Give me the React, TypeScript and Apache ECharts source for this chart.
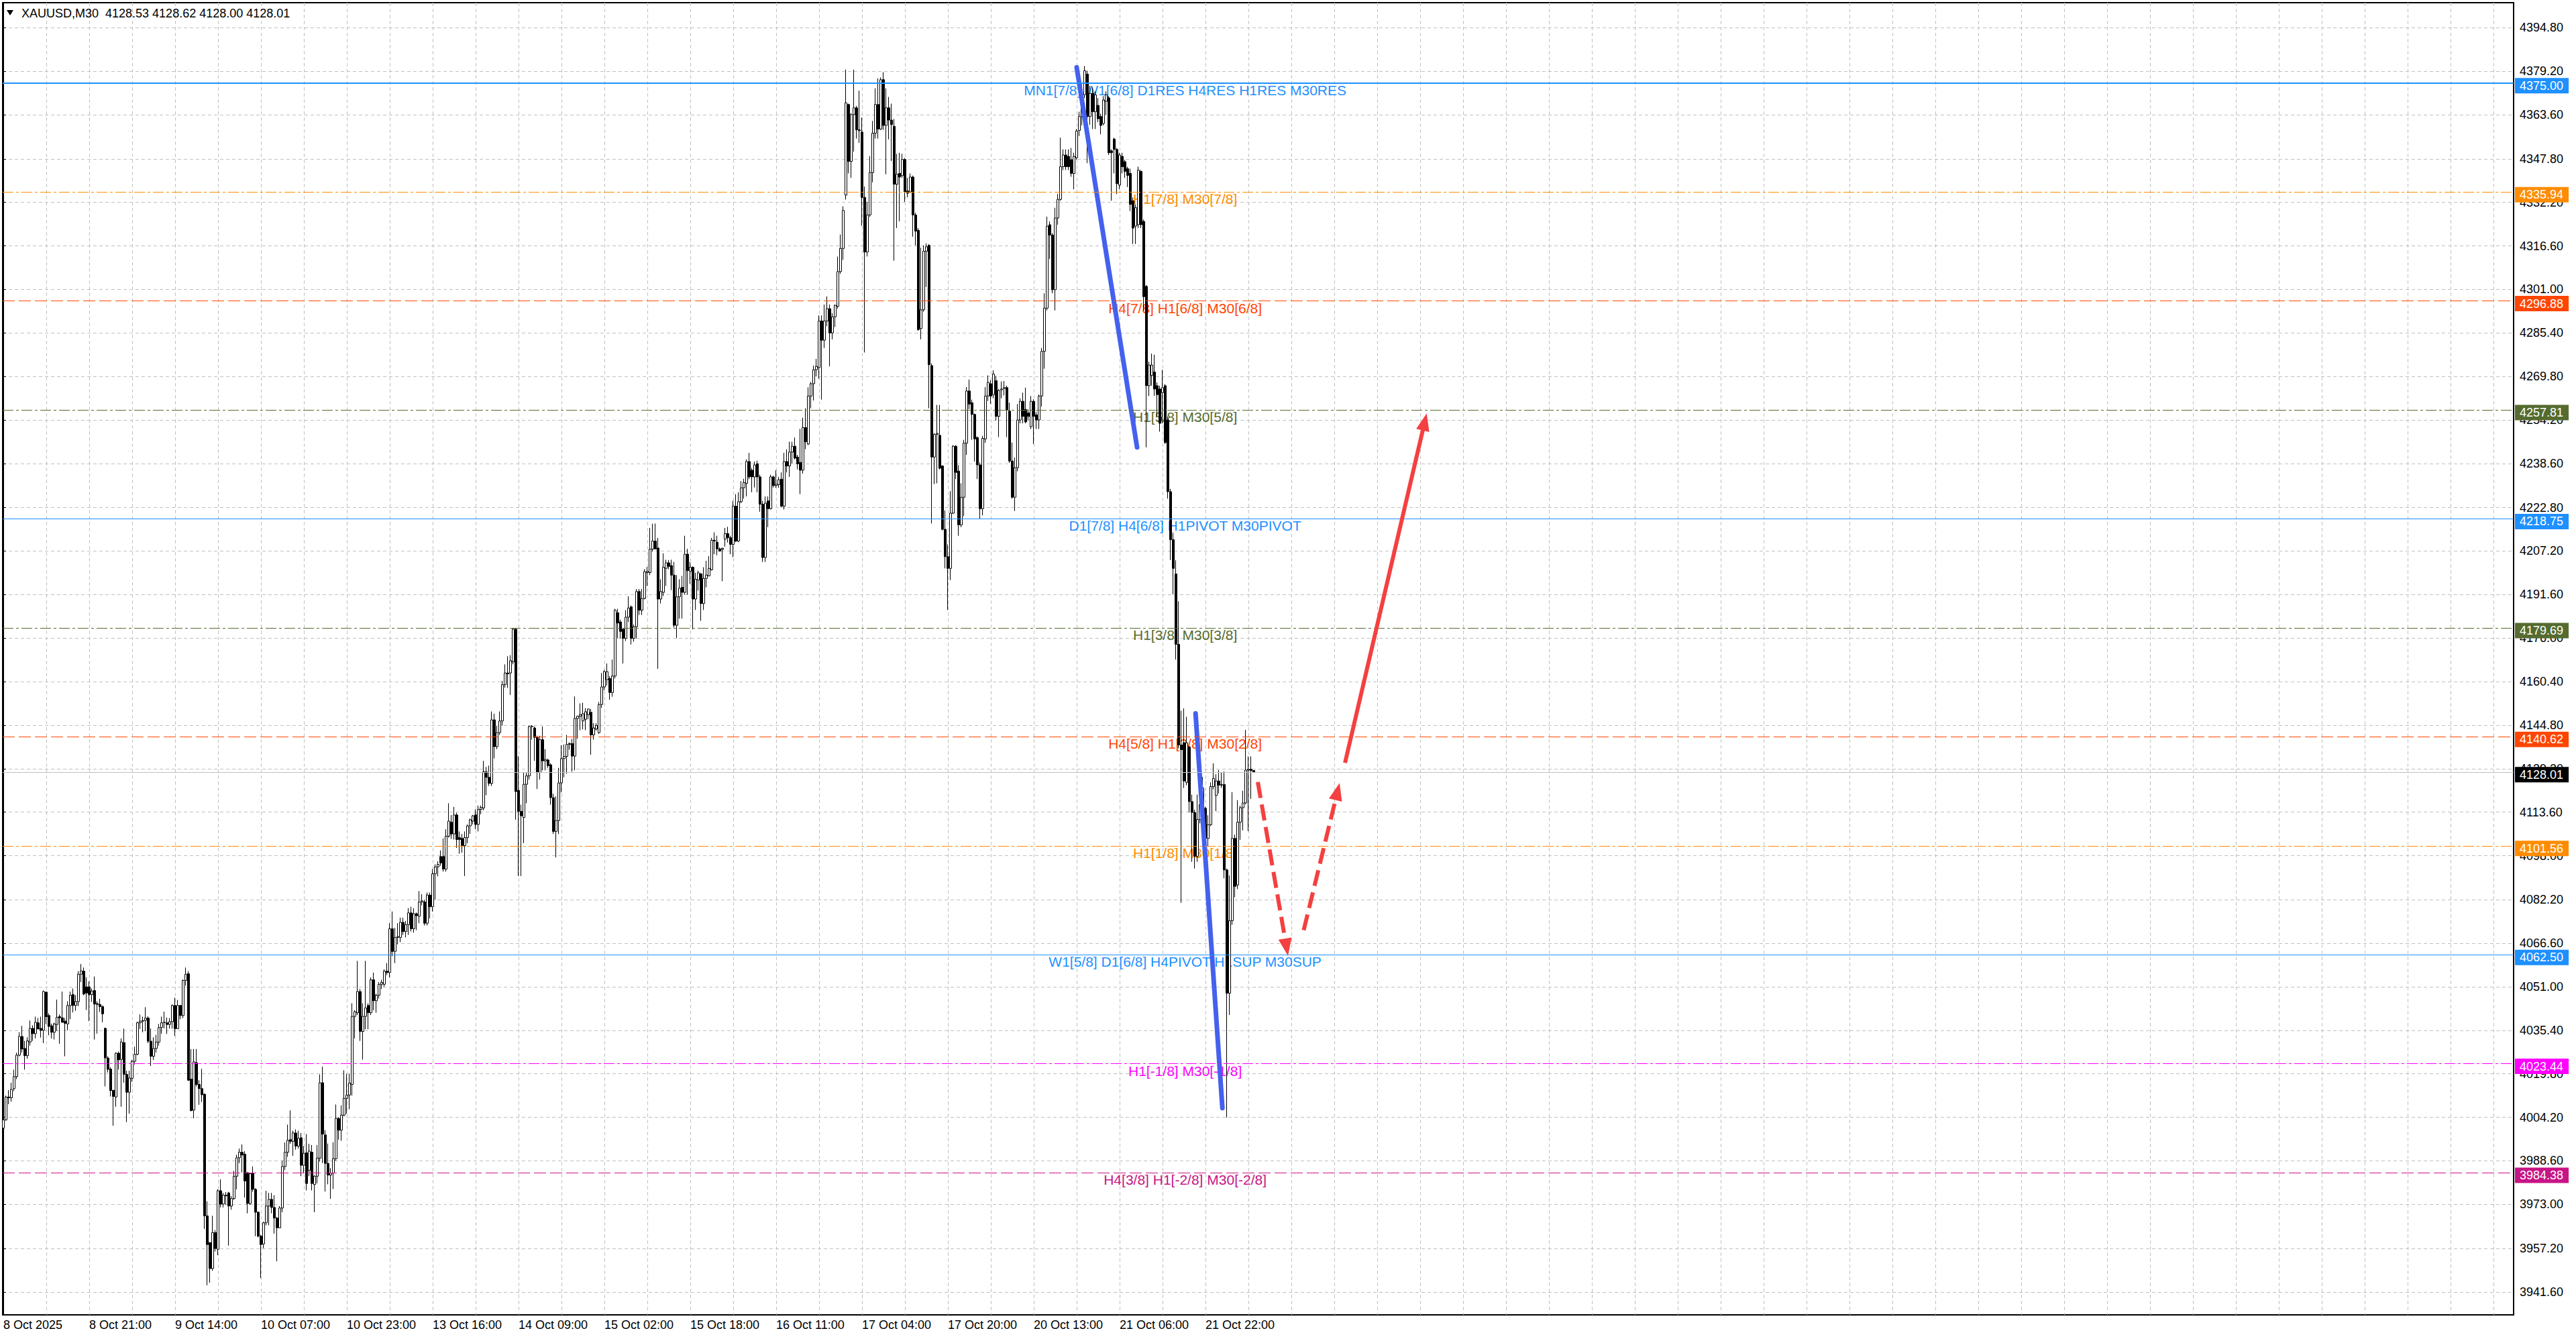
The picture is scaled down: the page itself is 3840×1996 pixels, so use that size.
import { useEffect, useRef } from "react"
import * as echarts from "echarts"

// XAUUSD M30 bars, oldest first: [open, high, low, close]
const candles: number[][] = [
  [4000.3, 4005.9, 3995.6, 4003.3], [4003.3, 4012.0, 4003.0, 4011.5], [4011.5, 4014.0, 4008.9, 4011.2], [4011.2, 4016.6, 4009.8, 4014.2],
  [4014.5, 4021.3, 4013.6, 4018.8], [4018.8, 4027.4, 4017.9, 4026.5], [4026.5, 4034.7, 4026.1, 4033.2], [4033.2, 4037.0, 4027.4, 4028.7],
  [4028.9, 4031.6, 4021.3, 4026.3], [4026.3, 4032.9, 4025.2, 4031.6], [4031.2, 4038.9, 4029.9, 4036.1], [4036.1, 4037.2, 4031.6, 4034.2],
  [4034.2, 4040.3, 4032.5, 4038.3], [4038.1, 4039.8, 4035.8, 4035.9], [4036.1, 4040.3, 4032.8, 4035.4], [4035.4, 4049.7, 4030.8, 4049.3],
  [4049.1, 4049.3, 4037.7, 4040.3], [4040.7, 4041.5, 4033.6, 4036.8], [4037.0, 4037.8, 4032.5, 4034.7], [4034.7, 4038.1, 4032.1, 4037.7],
  [4037.5, 4046.4, 4035.1, 4040.1], [4040.3, 4041.1, 4030.6, 4039.9], [4039.9, 4049.3, 4038.1, 4038.3], [4038.7, 4039.8, 4026.1, 4037.9],
  [4037.7, 4045.8, 4035.4, 4044.3], [4044.3, 4049.3, 4039.4, 4048.0], [4048.2, 4050.4, 4041.8, 4044.3], [4044.3, 4048.0, 4042.4, 4045.7],
  [4045.7, 4056.6, 4044.1, 4055.5], [4055.5, 4059.2, 4052.7, 4056.7], [4056.6, 4057.9, 4048.0, 4048.4], [4051.0, 4054.4, 4042.7, 4048.8],
  [4051.0, 4053.0, 4038.7, 4048.2], [4048.2, 4050.4, 4045.6, 4049.5], [4049.7, 4054.7, 4032.1, 4044.8], [4045.0, 4045.8, 4034.2, 4044.7],
  [4044.7, 4046.7, 4042.0, 4043.9], [4043.9, 4044.3, 4038.3, 4041.3], [4036.1, 4036.4, 4015.3, 4025.5], [4025.5, 4026.1, 4020.3, 4021.4],
  [4021.5, 4022.2, 4011.7, 4013.8], [4013.9, 4014.0, 4001.2, 4011.7], [4011.5, 4027.5, 4008.0, 4027.2], [4027.2, 4027.8, 4021.3, 4024.8],
  [4025.0, 4032.5, 4008.0, 4031.2], [4031.0, 4036.0, 4016.6, 4019.6], [4019.6, 4020.9, 4002.5, 4013.2], [4013.2, 4020.9, 4005.5, 4018.3],
  [4018.2, 4024.8, 4016.9, 4024.3], [4024.3, 4029.5, 4023.1, 4026.8], [4026.8, 4038.5, 4026.5, 4038.1], [4038.1, 4041.1, 4035.9, 4038.7],
  [4038.7, 4040.3, 4034.7, 4038.9], [4039.0, 4043.7, 4035.1, 4039.8], [4039.8, 4040.4, 4030.8, 4031.5], [4031.5, 4036.1, 4022.6, 4026.1],
  [4026.1, 4032.9, 4024.8, 4028.9], [4028.9, 4033.8, 4027.4, 4031.2], [4031.2, 4037.7, 4029.9, 4036.4], [4036.4, 4040.3, 4034.2, 4038.1],
  [4038.2, 4042.1, 4036.1, 4038.3], [4038.1, 4040.0, 4034.1, 4037.5], [4037.5, 4039.8, 4036.0, 4038.5], [4038.5, 4044.7, 4036.0, 4044.3],
  [4044.3, 4047.1, 4033.4, 4036.0], [4036.0, 4046.3, 4036.0, 4044.3], [4044.3, 4044.5, 4039.4, 4040.7], [4040.7, 4053.6, 4039.8, 4053.3],
  [4053.3, 4057.9, 4051.4, 4055.5], [4055.7, 4056.6, 4017.3, 4017.5], [4017.9, 4028.7, 4006.4, 4006.6], [4006.8, 4028.7, 4003.9, 4024.1],
  [4023.8, 4028.7, 4015.3, 4016.0], [4016.0, 4017.5, 4008.7, 4014.5], [4014.5, 4021.6, 4009.7, 4012.3], [4012.5, 4012.8, 3964.2, 3968.9],
  [3968.9, 3974.1, 3944.0, 3958.6], [3959.3, 3959.5, 3944.9, 3950.0], [3950.0, 3968.9, 3949.2, 3962.9], [3962.9, 3963.8, 3956.1, 3957.2],
  [3956.9, 3978.4, 3954.8, 3977.9], [3977.9, 3982.0, 3971.9, 3973.1], [3973.1, 3977.1, 3971.9, 3976.3], [3976.3, 3977.4, 3972.8, 3976.1],
  [3977.1, 3977.5, 3958.2, 3972.4], [3972.4, 3976.0, 3971.1, 3975.1], [3975.1, 3985.0, 3974.6, 3983.1], [3983.1, 3990.8, 3978.4, 3989.7],
  [3989.7, 3993.0, 3987.8, 3991.7], [3991.7, 3994.5, 3984.4, 3990.7], [3991.0, 3992.1, 3975.4, 3981.4], [3984.4, 3984.6, 3969.8, 3973.3],
  [3973.3, 3984.4, 3972.8, 3984.0], [3984.2, 3986.6, 3977.5, 3978.4], [3978.4, 3978.8, 3961.6, 3970.2], [3970.2, 3970.5, 3961.2, 3961.6],
  [3961.6, 3962.1, 3946.6, 3958.6], [3958.8, 3966.8, 3957.3, 3966.4], [3966.4, 3977.9, 3965.5, 3972.4], [3972.4, 3977.1, 3965.5, 3974.8],
  [3974.8, 3977.1, 3969.8, 3971.9], [3971.9, 3976.3, 3962.5, 3968.1], [3968.1, 3968.5, 3952.6, 3964.6], [3964.6, 3972.4, 3964.5, 3971.7],
  [3971.7, 3988.7, 3970.2, 3986.6], [3986.6, 3995.2, 3985.3, 3991.7], [3991.7, 4001.6, 3990.0, 3996.0], [3996.2, 4006.7, 3994.7, 3995.6],
  [3995.6, 3999.4, 3990.4, 3998.6], [3998.6, 3999.9, 3992.6, 3993.9], [3993.9, 3999.4, 3993.0, 3996.7], [3996.9, 3998.6, 3983.1, 3987.0],
  [3987.0, 3993.9, 3984.4, 3991.3], [3991.5, 3998.2, 3978.0, 3980.5], [3985.2, 3994.7, 3983.1, 3992.1], [3991.7, 3994.3, 3978.0, 3980.5],
  [3980.1, 3983.5, 3970.2, 3983.1], [3983.1, 3994.3, 3980.5, 3989.6], [3989.6, 4019.6, 3988.3, 4016.6], [4016.6, 4022.4, 3987.8, 3998.2],
  [3997.9, 3999.6, 3977.6, 3987.7], [3987.7, 3994.8, 3980.2, 3983.5], [3983.5, 3986.0, 3975.0, 3984.2], [3984.2, 3995.3, 3978.5, 3989.4],
  [3989.4, 4008.8, 3988.6, 4003.8], [4003.8, 4004.3, 3996.2, 3999.6], [3999.6, 4008.5, 3995.8, 4005.0], [4005.0, 4021.1, 4004.6, 4011.0],
  [4011.0, 4019.8, 4005.5, 4012.2], [4012.2, 4019.8, 4007.1, 4016.5], [4016.0, 4045.1, 4012.0, 4040.4], [4040.4, 4042.6, 4032.5, 4042.1],
  [4041.7, 4060.3, 4040.9, 4049.3], [4049.3, 4050.2, 4031.6, 4035.0], [4035.0, 4045.1, 4024.9, 4040.4], [4040.4, 4060.3, 4035.8, 4043.4],
  [4044.3, 4045.1, 4035.8, 4041.7], [4041.7, 4054.4, 4040.9, 4053.5], [4053.5, 4056.1, 4042.6, 4046.0], [4046.0, 4048.5, 4041.7, 4048.0],
  [4048.0, 4052.7, 4046.8, 4051.9], [4051.9, 4053.5, 4050.2, 4052.6], [4051.9, 4057.3, 4051.0, 4056.6], [4056.6, 4059.5, 4055.2, 4056.1],
  [4056.1, 4073.8, 4054.4, 4071.8], [4071.8, 4078.0, 4062.0, 4063.7], [4063.7, 4072.1, 4059.5, 4068.7], [4068.7, 4073.8, 4066.2, 4069.0],
  [4068.7, 4075.8, 4067.0, 4074.1], [4074.1, 4075.8, 4069.6, 4070.8], [4070.8, 4074.6, 4068.7, 4073.3], [4073.3, 4079.2, 4069.6, 4077.5],
  [4077.5, 4079.7, 4070.8, 4071.8], [4071.8, 4079.2, 4070.4, 4077.2], [4077.2, 4077.6, 4071.3, 4076.5], [4076.3, 4085.3, 4073.8, 4081.4],
  [4081.4, 4084.2, 4080.2, 4081.8], [4081.4, 4082.2, 4073.0, 4073.8], [4073.8, 4084.8, 4073.0, 4083.9], [4083.9, 4084.8, 4075.5, 4079.7],
  [4079.7, 4093.2, 4078.0, 4091.5], [4091.5, 4094.9, 4082.2, 4094.0], [4094.0, 4096.0, 4090.6, 4094.9], [4097.7, 4099.9, 4094.4, 4095.4],
  [4097.7, 4104.2, 4092.3, 4093.2], [4093.2, 4107.5, 4092.3, 4105.0], [4105.0, 4116.8, 4104.5, 4110.4], [4110.0, 4112.6, 4104.0, 4105.8],
  [4105.8, 4115.5, 4103.8, 4112.6], [4112.6, 4113.4, 4100.8, 4103.8], [4104.5, 4106.7, 4098.7, 4103.8], [4104.2, 4105.8, 4099.1, 4101.6],
  [4101.6, 4106.7, 4090.7, 4104.5], [4104.5, 4109.2, 4102.5, 4108.7], [4108.7, 4111.3, 4105.8, 4110.9], [4110.4, 4112.6, 4109.2, 4112.3],
  [4112.6, 4114.6, 4107.5, 4109.2], [4109.2, 4116.0, 4106.7, 4114.6], [4114.6, 4116.0, 4112.8, 4115.3], [4115.1, 4132.0, 4114.3, 4128.1],
  [4128.1, 4129.8, 4119.7, 4126.1], [4126.1, 4130.3, 4123.0, 4123.9], [4123.9, 4149.7, 4123.0, 4146.7], [4146.7, 4148.9, 4132.9, 4137.1],
  [4137.1, 4144.6, 4136.2, 4142.1], [4142.1, 4149.7, 4141.3, 4146.3], [4146.3, 4160.7, 4144.6, 4159.3], [4159.3, 4166.6, 4158.2, 4163.5],
  [4163.5, 4169.5, 4158.2, 4163.2], [4163.5, 4169.9, 4155.6, 4167.9], [4167.5, 4179.7, 4166.6, 4179.2], [4179.2, 4179.7, 4110.9, 4121.0],
  [4121.4, 4133.7, 4090.7, 4113.9], [4113.9, 4116.3, 4090.7, 4112.3], [4111.7, 4127.8, 4102.5, 4123.6], [4123.6, 4127.8, 4116.8, 4126.6],
  [4126.6, 4144.6, 4125.3, 4144.3], [4144.3, 4144.8, 4139.6, 4144.4], [4143.8, 4144.3, 4132.0, 4140.4], [4140.4, 4141.0, 4121.9, 4127.8],
  [4127.8, 4141.0, 4125.3, 4139.6], [4139.6, 4144.3, 4128.6, 4132.0], [4132.0, 4136.2, 4128.6, 4132.5], [4132.3, 4132.8, 4129.5, 4130.3],
  [4130.6, 4131.1, 4116.3, 4118.8], [4118.8, 4120.2, 4105.8, 4106.7], [4106.7, 4119.3, 4097.4, 4110.6], [4110.6, 4129.5, 4105.8, 4124.1],
  [4124.1, 4137.6, 4120.7, 4132.8], [4132.8, 4137.9, 4126.1, 4133.6], [4133.6, 4141.3, 4127.4, 4137.9], [4137.9, 4138.6, 4136.0, 4138.2],
  [4138.2, 4139.9, 4128.1, 4133.7], [4133.7, 4155.1, 4128.6, 4147.2], [4147.2, 4148.2, 4139.9, 4148.0], [4148.0, 4152.6, 4143.0, 4148.6],
  [4146.3, 4152.8, 4143.3, 4148.9], [4146.9, 4150.9, 4143.0, 4149.6], [4148.5, 4150.6, 4146.9, 4150.6], [4149.4, 4150.6, 4134.2, 4141.3],
  [4141.3, 4145.5, 4139.6, 4143.8], [4143.4, 4145.5, 4142.9, 4144.7], [4142.1, 4153.1, 4141.7, 4152.2], [4152.2, 4163.5, 4151.0, 4158.5],
  [4158.5, 4164.6, 4157.3, 4164.0], [4161.1, 4166.9, 4159.0, 4164.0], [4161.5, 4162.4, 4153.9, 4156.5], [4156.5, 4168.3, 4155.0, 4162.4],
  [4162.4, 4186.5, 4161.5, 4186.0], [4185.1, 4186.5, 4175.9, 4181.4], [4181.8, 4182.6, 4175.9, 4178.4], [4179.2, 4179.7, 4166.9, 4175.9],
  [4175.9, 4186.0, 4175.0, 4183.5], [4183.5, 4191.0, 4181.8, 4186.8], [4187.2, 4187.7, 4173.7, 4175.9], [4175.9, 4180.9, 4174.7, 4180.1],
  [4180.1, 4193.6, 4175.9, 4192.7], [4192.7, 4193.6, 4184.3, 4186.0], [4186.0, 4193.6, 4184.3, 4190.2], [4190.2, 4200.7, 4189.9, 4199.8],
  [4199.5, 4201.5, 4194.7, 4199.9], [4199.5, 4215.5, 4198.6, 4207.9], [4207.9, 4217.0, 4207.0, 4210.8], [4210.8, 4217.1, 4207.9, 4208.0],
  [4208.3, 4211.9, 4165.0, 4190.0], [4190.0, 4197.1, 4188.4, 4192.7], [4192.4, 4206.4, 4191.1, 4201.4], [4201.0, 4204.1, 4194.7, 4203.0],
  [4203.0, 4204.0, 4200.7, 4201.7], [4202.0, 4204.1, 4193.2, 4198.6], [4198.6, 4203.3, 4179.8, 4180.6], [4180.6, 4198.6, 4176.0, 4190.8],
  [4190.8, 4197.1, 4183.0, 4193.9], [4194.2, 4198.3, 4183.0, 4192.4], [4192.4, 4212.7, 4191.6, 4206.1], [4206.1, 4208.0, 4191.6, 4200.2],
  [4200.0, 4203.3, 4195.5, 4201.4], [4201.4, 4201.7, 4179.1, 4190.0], [4190.0, 4199.4, 4186.1, 4197.1], [4196.8, 4200.2, 4193.0, 4199.4],
  [4199.0, 4199.4, 4182.2, 4188.4], [4188.4, 4201.4, 4186.1, 4197.4], [4197.4, 4203.7, 4194.2, 4198.6], [4198.3, 4205.4, 4198.3, 4201.0],
  [4200.5, 4211.9, 4200.2, 4211.1], [4211.1, 4213.9, 4206.1, 4210.8], [4210.4, 4212.7, 4205.7, 4208.0], [4208.0, 4208.5, 4207.0, 4207.2],
  [4207.8, 4208.4, 4196.4, 4208.2], [4211.5, 4215.5, 4208.8, 4213.5], [4213.5, 4215.9, 4210.3, 4212.0], [4212.0, 4212.7, 4206.1, 4209.6],
  [4209.6, 4225.2, 4205.0, 4223.3], [4223.3, 4227.6, 4210.4, 4210.8], [4210.8, 4228.3, 4210.4, 4224.9], [4224.9, 4232.3, 4224.4, 4229.9],
  [4229.9, 4233.1, 4226.0, 4231.8], [4231.5, 4240.1, 4226.8, 4239.3], [4239.3, 4242.4, 4233.0, 4233.8], [4236.2, 4237.0, 4228.3, 4233.8],
  [4233.8, 4239.3, 4230.0, 4238.1], [4238.5, 4239.6, 4228.3, 4233.8], [4233.8, 4234.6, 4221.3, 4224.0], [4224.0, 4225.2, 4203.3, 4204.9],
  [4204.9, 4226.8, 4203.3, 4224.4], [4225.2, 4226.8, 4215.8, 4222.4], [4222.4, 4234.6, 4222.1, 4233.8], [4233.8, 4234.2, 4230.0, 4230.7],
  [4230.7, 4236.2, 4229.9, 4231.2], [4231.0, 4233.8, 4229.9, 4232.8], [4233.0, 4235.4, 4222.9, 4223.3], [4223.3, 4242.4, 4222.1, 4239.3],
  [4239.3, 4243.7, 4235.4, 4237.7], [4237.7, 4246.4, 4233.8, 4242.7], [4242.7, 4246.4, 4238.5, 4244.8], [4244.8, 4247.9, 4240.1, 4240.5],
  [4240.9, 4241.7, 4236.5, 4238.5], [4239.0, 4251.0, 4227.6, 4236.2], [4236.2, 4255.0, 4235.0, 4251.5], [4251.5, 4258.4, 4243.7, 4246.4],
  [4245.6, 4265.9, 4245.2, 4262.8], [4262.8, 4267.8, 4258.4, 4267.2], [4267.2, 4273.7, 4261.2, 4272.2], [4272.2, 4276.1, 4269.8, 4273.4],
  [4273.0, 4291.7, 4269.0, 4289.7], [4289.7, 4291.7, 4261.5, 4282.8], [4282.8, 4295.6, 4280.0, 4289.7], [4289.7, 4298.5, 4287.8, 4294.1],
  [4294.1, 4295.6, 4273.4, 4285.4], [4285.4, 4292.5, 4283.1, 4291.2], [4291.2, 4295.6, 4287.5, 4295.3], [4294.9, 4312.8, 4294.1, 4307.4],
  [4307.4, 4320.7, 4306.6, 4315.7], [4315.7, 4330.8, 4311.6, 4329.3], [4334.8, 4379.8, 4333.2, 4367.9], [4367.3, 4367.6, 4342.6, 4346.9],
  [4346.9, 4364.2, 4341.0, 4363.7], [4363.7, 4379.8, 4350.4, 4366.1], [4366.1, 4366.8, 4355.1, 4358.2], [4358.2, 4372.3, 4353.5, 4357.9],
  [4357.4, 4362.6, 4323.8, 4334.0], [4334.0, 4337.9, 4278.4, 4314.4], [4314.4, 4332.4, 4312.8, 4327.7], [4327.7, 4348.8, 4327.0, 4342.9],
  [4342.9, 4361.4, 4339.4, 4357.0], [4357.0, 4373.1, 4355.1, 4367.3], [4367.3, 4376.7, 4355.1, 4358.5], [4358.5, 4377.0, 4358.2, 4376.2],
  [4376.2, 4378.9, 4358.2, 4359.8], [4359.8, 4373.1, 4342.3, 4366.1], [4366.1, 4370.0, 4354.8, 4361.7], [4361.7, 4367.6, 4347.0, 4360.1],
  [4359.5, 4362.1, 4311.3, 4338.7], [4338.7, 4349.6, 4323.0, 4342.3], [4342.6, 4350.0, 4325.4, 4341.3], [4341.8, 4349.6, 4341.0, 4347.6],
  [4347.6, 4348.1, 4332.4, 4336.0], [4336.3, 4341.0, 4334.0, 4335.5], [4336.0, 4342.6, 4335.5, 4341.3], [4341.3, 4341.8, 4319.9, 4327.7],
  [4327.7, 4328.5, 4316.8, 4321.9], [4322.2, 4323.0, 4286.2, 4286.6], [4287.0, 4316.0, 4283.1, 4293.7], [4293.7, 4316.8, 4293.0, 4314.7],
  [4314.7, 4317.5, 4301.9, 4316.3], [4316.8, 4317.2, 4258.4, 4274.0], [4273.7, 4274.5, 4217.1, 4240.9], [4240.9, 4249.5, 4231.2, 4249.0],
  [4249.0, 4259.6, 4231.5, 4249.4], [4248.7, 4259.6, 4236.5, 4236.9], [4237.7, 4238.0, 4214.6, 4215.0], [4215.0, 4221.8, 4201.0, 4205.2],
  [4205.2, 4209.6, 4186.1, 4201.0], [4201.0, 4228.7, 4196.8, 4220.8], [4220.8, 4245.2, 4220.5, 4244.8], [4244.8, 4245.2, 4233.0, 4235.4],
  [4235.9, 4238.0, 4212.7, 4216.6], [4216.6, 4231.5, 4215.8, 4226.5], [4226.5, 4247.1, 4219.7, 4245.9], [4245.9, 4266.0, 4241.7, 4264.6],
  [4264.6, 4268.7, 4258.1, 4259.9], [4260.4, 4261.5, 4247.1, 4256.2], [4256.2, 4256.5, 4239.3, 4247.4], [4247.9, 4248.3, 4233.0, 4238.1],
  [4238.1, 4239.0, 4218.7, 4222.4], [4222.4, 4248.5, 4220.0, 4247.6], [4247.4, 4266.0, 4246.0, 4262.8], [4262.8, 4270.2, 4261.0, 4267.7],
  [4267.2, 4268.5, 4260.0, 4262.8], [4263.3, 4272.0, 4262.0, 4270.7], [4268.3, 4270.0, 4254.0, 4255.5], [4255.5, 4265.3, 4248.1, 4264.8],
  [4265.0, 4268.0, 4262.0, 4265.3], [4265.5, 4268.2, 4263.0, 4265.8], [4265.8, 4266.5, 4248.1, 4257.9], [4257.4, 4260.4, 4238.8, 4239.5],
  [4239.5, 4246.1, 4226.0, 4226.5], [4226.5, 4240.7, 4221.6, 4237.1], [4237.1, 4259.9, 4235.8, 4254.2], [4254.2, 4262.0, 4253.0, 4260.9],
  [4260.9, 4264.0, 4253.0, 4255.5], [4258.0, 4265.8, 4253.0, 4253.5], [4256.7, 4258.0, 4254.0, 4255.5], [4251.8, 4262.8, 4251.0, 4260.9],
  [4260.9, 4261.6, 4245.6, 4255.5], [4256.0, 4257.0, 4251.0, 4254.2], [4254.2, 4263.3, 4251.0, 4262.8], [4262.8, 4280.0, 4259.0, 4278.8],
  [4278.8, 4299.6, 4272.6, 4294.3], [4294.3, 4327.1, 4293.5, 4323.7], [4324.2, 4325.4, 4311.9, 4320.5], [4320.5, 4321.2, 4299.6, 4300.9],
  [4300.9, 4330.3, 4293.5, 4326.6], [4326.6, 4335.2, 4324.2, 4333.3], [4333.3, 4355.4, 4332.8, 4345.0], [4345.0, 4351.2, 4343.8, 4349.2],
  [4349.2, 4351.2, 4343.8, 4345.0], [4348.7, 4351.2, 4343.8, 4345.0], [4347.5, 4351.7, 4341.4, 4342.6], [4342.6, 4350.0, 4336.9, 4348.7],
  [4348.2, 4358.5, 4347.5, 4357.8], [4358.0, 4364.7, 4356.0, 4363.0], [4363.0, 4374.5, 4359.8, 4370.8], [4370.8, 4381.1, 4369.6, 4379.4],
  [4378.2, 4379.4, 4346.3, 4363.0], [4363.0, 4374.0, 4360.0, 4371.3], [4371.3, 4373.3, 4358.5, 4364.7], [4364.7, 4372.0, 4358.5, 4370.8],
  [4367.0, 4369.6, 4361.0, 4362.2], [4363.0, 4364.0, 4356.6, 4359.8], [4360.5, 4370.3, 4359.8, 4368.9], [4368.4, 4372.0, 4363.5, 4370.8],
  [4369.6, 4370.3, 4349.2, 4350.0], [4350.7, 4351.2, 4332.8, 4350.0], [4354.9, 4355.4, 4342.6, 4351.2], [4351.2, 4351.7, 4335.2, 4338.9],
  [4338.4, 4350.0, 4336.9, 4349.2], [4348.7, 4350.0, 4342.6, 4345.0], [4346.8, 4347.5, 4341.0, 4343.3], [4344.3, 4345.0, 4337.7, 4341.9],
  [4342.6, 4344.3, 4329.1, 4331.5], [4332.8, 4334.0, 4317.3, 4323.0], [4323.7, 4331.5, 4317.3, 4330.3], [4324.2, 4345.0, 4323.0, 4343.8],
  [4343.3, 4343.8, 4323.0, 4324.2], [4325.4, 4326.1, 4293.5, 4298.4], [4302.1, 4302.6, 4244.4, 4266.5], [4266.5, 4275.1, 4262.8, 4273.9],
  [4270.2, 4278.0, 4266.5, 4273.9], [4271.4, 4277.6, 4262.8, 4265.3], [4266.5, 4267.7, 4255.5, 4263.3], [4265.3, 4266.5, 4250.0, 4253.0],
  [4264.0, 4272.2, 4253.0, 4265.8], [4266.5, 4267.0, 4245.6, 4246.1], [4254.2, 4255.5, 4226.0, 4228.5], [4228.5, 4229.5, 4204.0, 4211.3],
  [4211.3, 4213.8, 4191.7, 4201.0], [4199.0, 4203.9, 4168.3, 4173.8], [4173.8, 4189.2, 4136.5, 4137.7], [4137.7, 4150.0, 4081.1, 4136.0],
  [4138.5, 4150.8, 4122.3, 4124.8], [4124.3, 4147.8, 4123.3, 4138.5], [4137.0, 4137.5, 4113.5, 4117.4], [4117.4, 4119.9, 4095.8, 4113.5],
  [4113.5, 4114.5, 4093.4, 4097.8], [4097.8, 4119.9, 4095.8, 4111.0], [4111.0, 4120.8, 4109.6, 4116.4], [4116.4, 4126.2, 4115.4, 4122.3],
  [4115.0, 4115.5, 4103.7, 4104.2], [4104.2, 4112.5, 4101.2, 4109.1], [4109.1, 4124.3, 4108.6, 4122.8], [4122.8, 4131.1, 4121.8, 4125.7],
  [4119.6, 4127.2, 4114.0, 4124.8], [4124.8, 4128.7, 4120.3, 4123.3], [4123.3, 4127.7, 4122.3, 4123.5], [4123.5, 4128.2, 4089.9, 4092.9],
  [4092.9, 4093.4, 4004.1, 4048.7], [4048.7, 4090.9, 4040.9, 4074.7], [4074.7, 4120.8, 4073.2, 4104.2], [4104.2, 4105.6, 4083.1, 4087.0],
  [4087.5, 4117.9, 4086.0, 4110.0], [4110.0, 4115.9, 4103.7, 4115.2], [4115.2, 4121.3, 4107.1, 4116.9], [4116.9, 4143.1, 4116.4, 4128.7],
  [4128.7, 4133.6, 4106.8, 4129.0], [4129.0, 4133.6, 4118.4, 4128.5], [4128.53, 4128.62, 4128.0, 4128.01],
]

// price scale labels on the right
const yTicks = [
  4394.8, 4379.2, 4363.6, 4347.8, 4332.2, 4316.6, 4301.0, 4285.4, 4269.8, 4254.2, 4238.6, 4222.8, 4207.2, 4191.6, 4176.0,
  4160.4, 4144.8, 4129.2, 4113.6, 4098.0, 4082.2, 4066.6, 4051.0, 4035.4, 4019.8, 4004.2, 3988.6, 3973.0, 3957.2, 3941.6,
]

// time scale labels (bar index → text)
const xLabelBars = [0, 32, 64, 96, 128, 160, 192, 224, 256, 288, 320, 352, 384, 416, 448]
const xLabels = [
  "8 Oct 2025", "8 Oct 21:00", "9 Oct 14:00", "10 Oct 07:00", "10 Oct 23:00", "13 Oct 16:00", "14 Oct 09:00", "15 Oct 02:00",
  "15 Oct 18:00", "16 Oct 11:00", "17 Oct 04:00", "17 Oct 20:00", "20 Oct 13:00", "21 Oct 06:00", "21 Oct 22:00",
]

// Murrey-math style levels
const levelPrices = [4375.0, 4335.94, 4296.88, 4257.81, 4218.75, 4179.69, 4140.62, 4101.56, 4062.5, 4023.44, 3984.38]
const levelTexts = [
  "MN1[7/8] W1[6/8] D1RES H4RES H1RES M30RES",
  "H1[7/8] M30[7/8]",
  "H4[7/8] H1[6/8] M30[6/8]",
  "H1[5/8] M30[5/8]",
  "D1[7/8] H4[6/8] H1PIVOT M30PIVOT",
  "H1[3/8] M30[3/8]",
  "H4[5/8] H1[2/8] M30[2/8]",
  "H1[1/8] M30[1/8]",
  "W1[5/8] D1[6/8] H4PIVOT H1SUP M30SUP",
  "H1[-1/8] M30[-1/8]",
  "H4[3/8] H1[-2/8] M30[-2/8]",
]
const levelColors = ["#1E90FF", "#FF8C00", "#FF4500", "#556B2F", "#1E90FF", "#556B2F", "#FF4500", "#FF8C00", "#1E90FF", "#FF00FF", "#C71585"]
const levelStyles = ["solid", "dashdot", "dash", "dashdot", "solid", "dashdot", "dash", "dashdot", "solid", "dashdot", "dash"]
const levelWidths = [2, 1, 1, 1, 1, 1, 1, 1, 1, 1, 1]
const bidPrice = 4128.01

// hand-drawn annotations: [bar, price] pairs
const trendLineA = [[400, 4380.6], [422.5, 4244.4]]
const trendLineB = [[444.3, 4149.0], [454.3, 4007.5]]
const arrowDown = [[467.5, 4124.4], [478.2, 4065.2]]
const arrowUpDashed = [[484.6, 4071.3], [497.2, 4121.0]]
const arrowUpSolid = [[500.0, 4131.3], [529.7, 4253.5]]

const FONT = "'Liberation Sans', Arial, sans-serif"
const LABEL_BAR = 440.4

export default function App() {
  const chartRef = useRef<HTMLDivElement>(null)

  useEffect(() => {
    document.body.style.margin = "0"
    if (!chartRef.current) return
    const chart = echarts.init(chartRef.current, null, { renderer: "svg" })

    const gridTicks: number[] = []
    for (let b = 16; b <= 935; b += 16) gridTicks.push(b)

    const dashes: Record<string, any> = { solid: "solid", dash: [18, 6], dashdot: [16, 4, 4, 4] }

    const levelLines: any[] = levelPrices.map((p, i) => ({
      yAxis: p,
      lineStyle: { color: levelColors[i], width: levelWidths[i], type: dashes[levelStyles[i]], opacity: 1 },
      label: { backgroundColor: levelColors[i] },
    }))
    levelLines.push({
      yAxis: bidPrice,
      lineStyle: { color: "#C0C0C0", width: 1, type: "solid", opacity: 1 },
      label: { backgroundColor: "#000" },
    })

    const redArrow = (pts: number[][], dashed: boolean) => [
      { coord: pts[0], symbol: "none" },
      {
        coord: pts[1],
        symbol: "triangle",
        symbolSize: [20, 26],
        lineStyle: { color: "#F44040", width: 6, type: dashed ? [24, 10] : "solid", cap: "butt", opacity: 1 },
      },
    ]

    chart.setOption({
      animation: false,
      backgroundColor: "#fff",
      title: {
        text: "XAUUSD,M30  4128.53 4128.62 4128.00 4128.01",
        left: 32,
        top: 11,
        padding: 0,
        textStyle: { fontFamily: FONT, fontSize: 18, fontWeight: "normal", color: "#000" },
      },
      graphic: [
        { type: "polygon", shape: { points: [[10, 15], [20, 15], [15, 23]] }, style: { fill: "#000" } },
      ],
      grid: { left: 4, top: 4, width: 3743, height: 1956, show: true, borderColor: "#000", borderWidth: 2 },
      xAxis: {
        type: "value",
        min: -0.25,
        max: 935.5,
        axisLine: { show: false },
        axisTick: { show: false, customValues: gridTicks },
        axisLabel: {
          customValues: xLabelBars,
          formatter: (v: number) => xLabels[xLabelBars.indexOf(v)] ?? "",
          align: "left",
          margin: 6,
          fontSize: 18,
          fontFamily: FONT,
          color: "#000",
        },
        splitLine: { show: true, lineStyle: { color: "#C0C0C0", type: [5, 4], width: 1 } },
      },
      yAxis: {
        type: "value",
        position: "right",
        min: 3933.4,
        max: 4403.8,
        axisLine: { show: true, lineStyle: { color: "#000", width: 2 } },
        axisTick: { show: true, customValues: yTicks, length: 4, lineStyle: { color: "#000" } },
        axisLabel: {
          customValues: yTicks,
          formatter: (v: number) => v.toFixed(2),
          margin: 9,
          fontSize: 18,
          fontFamily: FONT,
          color: "#000",
        },
        splitLine: { show: true, lineStyle: { color: "#C0C0C0", type: [5, 4], width: 1 } },
      },
      series: [
        {
          name: "levels",
          type: "scatter",
          z: 1,
          clip: false,
          symbolSize: 0,
          silent: true,
          itemStyle: { opacity: 1 },
          data: levelPrices.map((p, i) => ({
            value: [LABEL_BAR, p],
            label: { color: levelColors[i], formatter: levelTexts[i] },
          })),
          label: { show: true, position: "bottom", distance: 0, fontSize: 21, lineHeight: 21, fontFamily: FONT, opacity: 1 },
          markLine: {
            silent: true,
            symbol: ["none", "none"],
            animation: false,
            lineStyle: { opacity: 1 },
            label: {
              show: true,
              position: "end",
              distance: 2,
              offset: [0, 4],
              formatter: (p: any) => Number(p.value).toFixed(2),
              color: "#fff",
              fontSize: 18,
              lineHeight: 18,
              fontFamily: FONT,
              padding: [3, 8, 2, 7],
            },
            data: levelLines,
          },
        },
        {
          name: "XAUUSD",
          type: "candlestick",
          z: 2,
          barWidth: 3,
          encode: { x: 0, y: [1, 2, 3, 4] },
          data: candles.map(([o, h, l, c], i) => [i, o, c, l, h]),
          itemStyle: { color: "#fff", color0: "#000", borderColor: "#000", borderColor0: "#000", borderWidth: 1 },
        },
        {
          name: "trendA",
          type: "line",
          z: 3,
          symbol: "none",
          silent: true,
          data: trendLineA,
          lineStyle: { color: "#4461EE", width: 7, cap: "round" },
          markLine: {
            silent: true,
            animation: false,
            symbol: ["none", "none"],
            label: { show: false },
            data: [redArrow(arrowDown, true), redArrow(arrowUpDashed, true), redArrow(arrowUpSolid, false)],
          },
        },
        {
          name: "trendB",
          type: "line",
          z: 3,
          symbol: "none",
          silent: true,
          data: trendLineB,
          lineStyle: { color: "#4461EE", width: 7, cap: "round" },
        },
      ],
    })

    return () => {
      chart.dispose()
    }
  }, [])

  return <div ref={chartRef} style={{ width: 3840, height: 1996 }} />
}
